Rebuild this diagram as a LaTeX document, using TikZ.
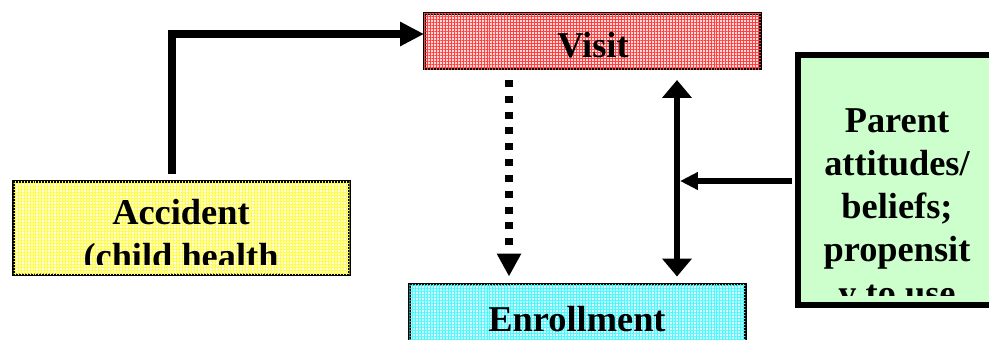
\documentclass[tikz,border=0pt]{standalone}
\usepackage{fontspec}
\setmainfont{Liberation Serif}
\usetikzlibrary{arrows.meta,patterns.meta}
\newcommand{\lblfont}{\fontsize{20.7}{24.5}\selectfont\bfseries}
\definecolor{parentgreen}{RGB}{204,255,204}
\tikzset{box/.style={draw, line width=1.7pt, outer sep=0pt, inner sep=0pt},
  meshfill/.style={fill=#1!14,
    postaction={pattern={Lines[angle=0,distance=1.7pt,line width=0.4pt]}, pattern color=#1!75},
    postaction={pattern={Lines[angle=90,distance=1.7pt,line width=0.4pt]}, pattern color=#1!75}},
  lbl/.style={font=\lblfont, anchor=base, align=center, inner sep=0pt},
  flow/.style={line width=4.5pt, -{Triangle[width=13pt,length=13.6pt]}},
  dotflow/.style={line width=4pt, dash pattern=on 4pt off 5pt, -{Triangle[width=13pt,length=13pt]}},
  twoway/.style={line width=3.4pt, {Triangle[width=16.4pt,length=10.2pt]}-{Triangle[width=16.4pt,length=10.2pt]}},
  sideflow/.style={line width=3.4pt, -{Triangle[width=9.6pt,length=10.2pt]}}}

\begin{document}
\begin{tikzpicture}[x=0.02cm,y=-0.02cm]
  \clip (0,0) rectangle (989,339);
  \node[box, meshfill=red, minimum width=6.74cm, minimum height=1.12cm] (visit) at (592.5,41) {};
  \node[lbl] (visitlbl) at (593,57) {Visit};
  \node[box, meshfill=yellow, minimum width=6.72cm, minimum height=1.86cm] (accident) at (181.5,228) {};
  \begin{scope}
    \clip (16,184) rectangle (347,264);
    \node[lbl] (accidentlbl) at (181,268) {Accident\\(child health};
  \end{scope}
  \node[box, meshfill=cyan, minimum width=6.72cm, minimum height=1.51cm] (enroll) at (577.5,322.25) {};
  \node[lbl] (enrolllbl) at (577,331) {Enrollment};
  \node[box, line width=3.4pt, fill=parentgreen, minimum width=4.04cm, minimum height=5cm] (parent) at (899,180) {};
  \begin{scope}
    \clip (801,58) rectangle (995,295);
    \node[lbl] (parentlbl) at (897,305) {Parent\\attitudes/\\beliefs;\\propensit\\y to use};
  \end{scope}
  \draw[flow] ([shift={(-9.5,-8)}]accident.north) |- ([shift={(0,-7)}]visit.west);
  \draw[dotflow] ([shift={(-83.5,11)}]visit.south) -- ([shift={(-68.5,-8)}]enroll.north);
  \draw[twoway] ([shift={(84.5,11)}]visit.south) -- ([shift={(99.5,-8)}]enroll.north);
  \coordinate (tie) at (680,181);
  \draw[sideflow] ([shift={(-6,1)}]parent.west) -- (tie);
\end{tikzpicture}
\end{document}
